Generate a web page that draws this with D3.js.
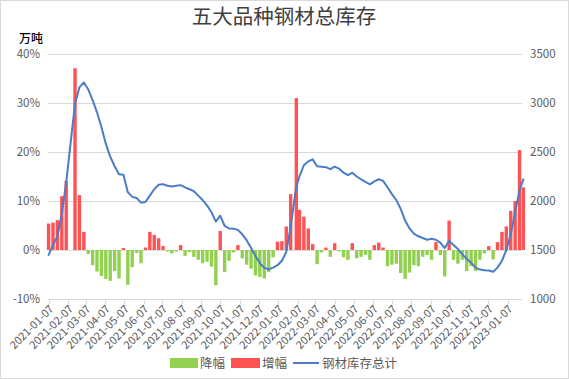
<!DOCTYPE html>
<html>
<head>
<meta charset="utf-8">
<script src="https://cdn.jsdelivr.net/npm/d3@7"></script>
<style>
  html, body { margin: 0; padding: 0; background: #fff; }
  svg { display: block; font-family: "Noto Sans CJK SC", "Noto Sans", sans-serif; }
</style>
</head>
<body>
<svg id="chart" width="569" height="379"></svg>
<script>
// ---- data ----
const title = "五大品种钢材总库存";
const unitLabel = "万吨";
const legendLabels = ["降幅", "增幅", "钢材库存总计"];

const dates = [
  "2021-01-07","2021-01-14","2021-01-21","2021-01-28","2021-02-04","2021-02-18","2021-02-25","2021-03-04",
  "2021-03-11","2021-03-18","2021-03-25","2021-04-01","2021-04-08","2021-04-15","2021-04-22","2021-04-29",
  "2021-05-06","2021-05-13","2021-05-20","2021-05-27","2021-06-03","2021-06-10","2021-06-17","2021-06-24",
  "2021-07-01","2021-07-08","2021-07-15","2021-07-22","2021-07-29","2021-08-05","2021-08-12","2021-08-19",
  "2021-08-26","2021-09-02","2021-09-09","2021-09-16","2021-09-23","2021-09-30","2021-10-07","2021-10-14",
  "2021-10-21","2021-10-28","2021-11-04","2021-11-11","2021-11-18","2021-11-25","2021-12-02","2021-12-09",
  "2021-12-16","2021-12-23","2021-12-30",
  "2022-01-06","2022-01-13","2022-01-20","2022-01-27","2022-02-05","2022-02-10","2022-02-17","2022-02-24",
  "2022-03-03","2022-03-10","2022-03-17","2022-03-24","2022-03-31","2022-04-07","2022-04-14","2022-04-21",
  "2022-04-28","2022-05-05","2022-05-12","2022-05-19","2022-05-26","2022-06-02","2022-06-09","2022-06-16",
  "2022-06-23","2022-06-30","2022-07-07","2022-07-14","2022-07-21","2022-07-28","2022-08-04","2022-08-11",
  "2022-08-18","2022-08-25","2022-09-01","2022-09-08","2022-09-15","2022-09-22","2022-09-29","2022-10-06",
  "2022-10-13","2022-10-20","2022-10-27","2022-11-03","2022-11-10","2022-11-17","2022-11-24","2022-12-01",
  "2022-12-08","2022-12-15","2022-12-22","2022-12-29",
  "2023-01-05","2023-01-12","2023-01-19","2023-01-26","2023-02-01"
];

// weekly change, %
const changePct = [
  5.4, 5.6, 6.1, 11.0, 14.1, 37.1, 11.2, 3.7,
  -0.8, -3.1, -4.4, -5.3, -5.9, -6.3, -4.3, -5.8,
  0.4, -7.1, -3.5, -0.6, -2.7, 0.5, 3.7, 3.1,
  2.4, 0.8, -0.3, -0.7, -0.3, 1.0, -1.2, -0.4,
  -1.4, -2.0, -2.7, -2.4, -3.4, -7.2, 3.9, -4.5,
  -2.2, -0.5, 1.0, -1.7, -3.0, -3.8, -5.2, -5.5,
  -5.8, -4.5, -1.5,
  1.7, 1.8, 4.8, 11.4, 31.0, 8.2, 6.8, 4.4,
  1.2, -2.9, -0.5, 0.5, -1.4, 1.4, -0.3, -1.5,
  -2.0, 1.4, -1.7, -1.4, -1.0, -2.0, 1.0, 1.5,
  0.5, -3.3, -3.0, -2.8, -4.7, -5.9, -4.6, -3.1,
  -3.3, -1.4, -1.0, -2.0, 1.6, -1.0, -5.4, 6.0,
  -2.0, -2.8, -2.0, -4.3, -3.3, -4.3, -2.0, -0.7,
  0.8, -1.9, 1.6, 3.7,
  4.8, 8.0, 10.0, 20.4, 12.8
];

// total inventory, 万吨
const inventory = [
  1450, 1550, 1640, 1870, 2190, 2990, 3160, 3210,
  3140, 3030, 2905, 2755, 2585, 2452, 2355, 2272,
  2268, 2090, 2042, 2030, 1983, 1990, 2055, 2120,
  2165, 2172, 2155, 2148, 2155, 2162, 2139, 2120,
  2100, 2055, 2010, 1955, 1885, 1790, 1850, 1745,
  1720, 1718, 1705, 1660, 1600, 1520, 1440, 1365,
  1318, 1303, 1320,
  1345, 1390, 1480, 1740, 2150, 2250, 2365, 2405,
  2425, 2355, 2350, 2345, 2325, 2350, 2330, 2290,
  2265, 2289, 2250, 2220, 2195, 2170, 2200, 2222,
  2205, 2140, 2070, 2010, 1920, 1800, 1720, 1668,
  1640, 1622, 1605, 1615, 1605, 1575, 1520, 1595,
  1550, 1510, 1455, 1410, 1370, 1320, 1300, 1294,
  1290, 1278, 1320, 1390,
  1500, 1660, 1890, 2110, 2221
];

const xTickLabels = [
  "2021-01-07","2021-02-07","2021-03-07","2021-04-07","2021-05-07","2021-06-07","2021-07-07",
  "2021-08-07","2021-09-07","2021-10-07","2021-11-07","2021-12-07","2022-01-07","2022-02-07",
  "2022-03-07","2022-04-07","2022-05-07","2022-06-07","2022-07-07","2022-08-07","2022-09-07",
  "2022-10-07","2022-11-07","2022-12-07","2023-01-07"
];
const leftTicks = [-10, 0, 10, 20, 30, 40];
const rightTicks = [1000, 1500, 2000, 2500, 3000, 3500];

// ---- drawing ----
const parse = d3.utcParse("%Y-%m-%d");
const rows = dates.map((d, i) => ({ date: parse(d), pct: changePct[i], inv: inventory[i] }));

const svg = d3.select("#chart");
const plotLeft = 48, plotRight = 522, plotTop = 54, plotBottom = 299;

const x = d3.scaleUtc()
  .domain([parse(xTickLabels[0]), parse(xTickLabels[xTickLabels.length - 1])])
  .range([48.6, 507.6]);
const yL = d3.scaleLinear().domain([-10, 40]).range([plotBottom, plotTop]);
const yR = d3.scaleLinear().domain([1000, 3500]).range([plotBottom, plotTop]);

// border
svg.append("rect").attr("x", 0.5).attr("y", 0.5).attr("width", 568).attr("height", 378)
  .attr("fill", "#fff").attr("stroke", "#d9d9d9");

// title
svg.append("text").attr("x", 284).attr("y", 24).attr("text-anchor", "middle")
  .attr("font-size", 20.5).attr("fill", "#404040").text(title);

// unit label
svg.append("text").attr("x", 19).attr("y", 42.5).attr("font-size", 12)
  .attr("font-weight", 500).attr("fill", "#000").text(unitLabel);

// gridlines
svg.append("g").selectAll("line").data(leftTicks).join("line")
  .attr("x1", plotLeft).attr("x2", plotRight)
  .attr("y1", d => Math.round(yL(d)) + 0.5).attr("y2", d => Math.round(yL(d)) + 0.5)
  .attr("stroke", "#d9d9d9").attr("stroke-width", 1);

// left axis labels
svg.append("g").selectAll("text").data(leftTicks).join("text")
  .attr("x", 40).attr("y", d => yL(d) + 4).attr("text-anchor", "end")
  .attr("font-size", 11.5).attr("fill", "#595959").text(d => d + "%");

// right axis labels
svg.append("g").selectAll("text").data(rightTicks).join("text")
  .attr("x", 530).attr("y", d => yR(d) + 4).attr("text-anchor", "start")
  .attr("font-size", 11.5).attr("fill", "#595959").text(d => d);

// x tick marks
const tickDates = xTickLabels.map(parse);
svg.append("g").selectAll("line").data(tickDates).join("line")
  .attr("x1", d => Math.round(x(d)) + 0.5).attr("x2", d => Math.round(x(d)) + 0.5)
  .attr("y1", plotBottom).attr("y2", plotBottom + 5)
  .attr("stroke", "#d9d9d9");

// x tick labels
svg.append("g").selectAll("text").data(xTickLabels).join("text")
  .attr("transform", d => `translate(${x(parse(d)) + 3},${plotBottom + 8}) rotate(-45)`)
  .attr("text-anchor", "end").attr("font-size", 11).attr("fill", "#595959")
  .attr("dy", "0.35em").text(d => d);

// bars
const barW = 3.4;
svg.append("g").selectAll("rect").data(rows).join("rect")
  .attr("x", d => x(d.date) - barW / 2)
  .attr("width", barW)
  .attr("y", d => d.pct >= 0 ? yL(d.pct) : yL(0))
  .attr("height", d => Math.abs(yL(d.pct) - yL(0)))
  .attr("fill", d => d.pct >= 0 ? "#FF5252" : "#92D050");

// line
const line = d3.line().x(d => x(d.date)).y(d => yR(d.inv)).curve(d3.curveLinear);
svg.append("path").datum(rows).attr("d", line)
  .attr("fill", "none").attr("stroke", "#4A7CC7").attr("stroke-width", 2)
  .attr("stroke-linejoin", "round").attr("stroke-linecap", "round");

// legend
const lg = svg.append("g").attr("font-size", 12.5).attr("fill", "#595959");
lg.append("rect").attr("x", 170).attr("y", 358).attr("width", 28).attr("height", 10).attr("fill", "#92D050");
lg.append("text").attr("x", 200).attr("y", 368).text(legendLabels[0]);
lg.append("rect").attr("x", 231).attr("y", 358).attr("width", 29).attr("height", 10).attr("fill", "#FF5252");
lg.append("text").attr("x", 262).attr("y", 368).text(legendLabels[1]);
lg.append("line").attr("x1", 293).attr("x2", 319).attr("y1", 363).attr("y2", 363)
  .attr("stroke", "#4A7CC7").attr("stroke-width", 2);
lg.append("text").attr("x", 322).attr("y", 368).text(legendLabels[2]);
</script>
</body>
</html>
